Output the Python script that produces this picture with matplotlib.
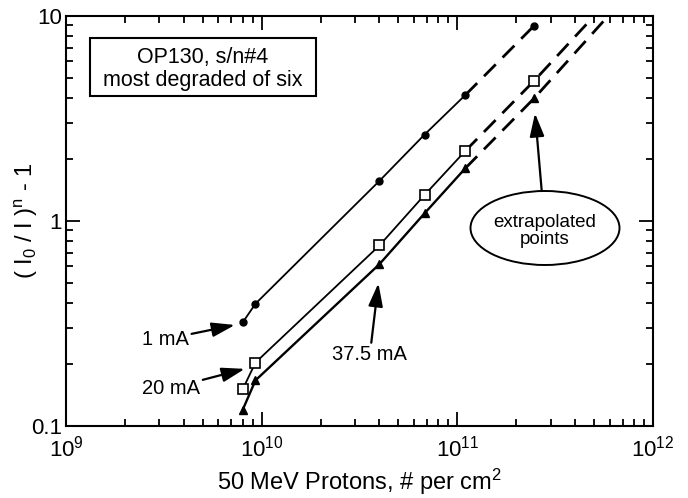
import matplotlib
matplotlib.use("Agg")
import matplotlib.pyplot as plt
from matplotlib.patches import Ellipse, Rectangle
from matplotlib.ticker import LogLocator, FixedLocator, FixedFormatter, NullFormatter

plt.rcParams['font.family'] = ['Liberation Sans', 'DejaVu Sans']
plt.rcParams['mathtext.fontset'] = 'custom'
plt.rcParams['mathtext.rm'] = 'Liberation Sans'
plt.rcParams['mathtext.it'] = 'Liberation Sans'
plt.rcParams['mathtext.bf'] = 'Liberation Sans:bold'

# ---- data ----
fluence_meas = [8.0e9, 9.3e9, 4.0e10, 6.8e10, 1.1e11]
y_1mA = [0.32, 0.395, 1.57, 2.64, 4.12]
y_20mA = [0.151, 0.204, 0.76, 1.34, 2.2]
y_37mA = [0.12, 0.167, 0.616, 1.09, 1.81]

fluence_extrap = [1.1e11, 2.47e11]
y_1mA_extrap = [4.12, 8.97]
fluence_extrap_20 = [1.1e11, 2.47e11, 5.0e11]
y_20mA_extrap = [2.2, 4.83, 10.0]
fluence_extrap_37 = [1.1e11, 2.47e11, 5.9e11]
y_37mA_extrap = [1.81, 3.97, 10.0]

y_ticks = [0.1, 1, 10]
y_ticklabels = ['0.1', '1', '10']
x_ticks = [1e9, 1e10, 1e11, 1e12]

fig = plt.figure(figsize=(6.88, 4.98), dpi=100)
ax = fig.add_axes([66/688, 1-426/498, 587/688, 410/498])
ax.set_xscale('log')
ax.set_yscale('log')
ax.set_xlim(1e9, 1e12)
ax.set_ylim(0.1, 10)

lw = 1.3
dash = (0, (6, 3.5))
# solid measured lines
ax.plot(fluence_meas, y_1mA, '-', color='black', lw=lw, marker='o', ms=5, mfc='black', mec='black', zorder=3)
ax.plot(fluence_meas, y_20mA, '-', color='black', lw=lw, marker='s', ms=6.5, mfc='white', mec='black', mew=1.2, zorder=4)
ax.plot(fluence_meas, y_37mA, '-', color='black', lw=1.7, marker='^', ms=6, mfc='black', mec='black', zorder=3)

# dashed extrapolations
ax.plot(fluence_extrap, y_1mA_extrap, color='black', lw=2.0, ls=dash, zorder=2)
ax.plot(fluence_extrap[-1:], y_1mA_extrap[-1:], 'o', color='black', ms=5, zorder=3)
ax.plot(fluence_extrap_20, y_20mA_extrap, color='black', lw=2.0, ls=dash, zorder=2)
ax.plot(fluence_extrap_20[1:2], y_20mA_extrap[1:2], 's', ms=6.5, mfc='white', mec='black', mew=1.2, zorder=4)
ax.plot(fluence_extrap_37, y_37mA_extrap, color='black', lw=2.0, ls=dash, zorder=2)
ax.plot(fluence_extrap_37[1:2], y_37mA_extrap[1:2], '^', ms=6, color='black', zorder=3)

# ticks
ax.xaxis.set_major_locator(FixedLocator(x_ticks))
ax.xaxis.set_minor_locator(LogLocator(base=10, subs=range(2, 10), numticks=20))
ax.xaxis.set_minor_formatter(NullFormatter())
ax.yaxis.set_major_locator(FixedLocator(y_ticks))
ax.yaxis.set_major_formatter(FixedFormatter(y_ticklabels))
ax.yaxis.set_minor_locator(LogLocator(base=10, subs=range(2, 10), numticks=20))
ax.yaxis.set_minor_formatter(NullFormatter())
ax.tick_params(which='both', direction='in', top=True, right=True, width=1.3, labelsize=16, color='black')
ax.tick_params(which='major', length=10)
ax.tick_params(which='minor', length=5)
ax.tick_params(axis='y', pad=3)
ax.tick_params(axis='x', pad=7)
for s in ax.spines.values():
    s.set_linewidth(1.5)

ax.set_xlabel('50 MeV Protons, # per cm$^2$', fontsize=17, labelpad=4)
ax.set_ylabel(r'( I$_0$ / I )$^n$ - 1', fontsize=17)
ax.yaxis.set_label_coords(-0.045, 0.5)

# annotations
arrow = dict(arrowstyle='-|>,head_length=0.7,head_width=0.22', mutation_scale=20,
             lw=1.6, color='black', shrinkA=0, shrinkB=0)
ax.annotate('1 mA', xy=(7.3e9, 0.311), xytext=(3.22e9, 0.265), fontsize=14.5,
            ha='center', va='center', arrowprops=arrow)
ax.annotate('20 mA', xy=(8.2e9, 0.19), xytext=(3.44e9, 0.153), fontsize=14.5,
            ha='center', va='center', arrowprops=arrow)
ax.annotate('37.5 mA', xy=(3.95e10, 0.497), xytext=(3.57e10, 0.222), fontsize=14.5,
            ha='center', va='center', arrowprops=arrow)

# box text
ax.add_patch(Rectangle((24/587, 330/410), 226/587, 58/410, transform=ax.transAxes,
                       fill=True, facecolor='white', edgecolor='black', lw=1.5, zorder=5))
ax.text(137/587, 357/410, 'OP130, s/n#4\nmost degraded of six', transform=ax.transAxes,
        ha='center', va='center', fontsize=15.5, linespacing=1.15, zorder=6)

# ellipse
ax.add_patch(Ellipse((479/587, 198/410), 149/587, 74/410, transform=ax.transAxes,
                     fill=False, edgecolor='black', lw=1.4, zorder=5))
ax.text(479/587, 195/410, 'extrapolated\npoints', transform=ax.transAxes,
        ha='center', va='center', fontsize=13.5, linespacing=1.05, zorder=6)
ax.annotate('', xy=(469/587, 312.7/410), xycoords='axes fraction',
            xytext=(475.7/587, 235.3/410), textcoords='axes fraction', arrowprops=arrow)

fig.savefig('out.png', dpi=100)
